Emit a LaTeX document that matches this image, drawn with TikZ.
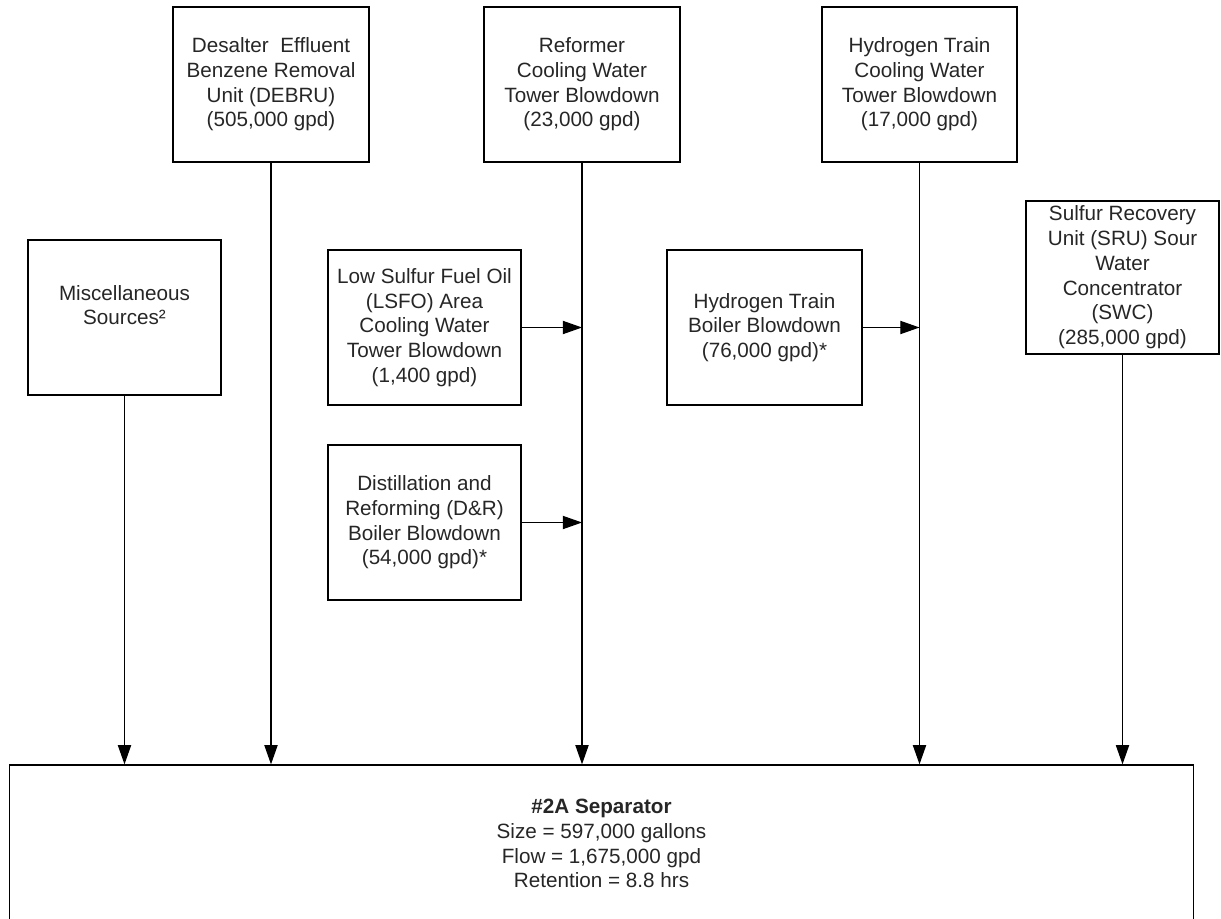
\documentclass[tikz,border=0pt]{standalone}
\usepackage{fontspec}
\setmainfont{Liberation Sans}
\usetikzlibrary{arrows.meta}
\begin{document}
\begin{tikzpicture}[x=0.025cm,y=-0.025cm,
  box/.style={draw=black,line width=0.9pt,inner sep=0pt,align=center,
    font=\fontsize{14.7}{17.6}\selectfont,text=black!85,
    minimum width=4.85cm,minimum height=3.875cm},
  arr/.style={draw=black,line width=0.85pt,-{Triangle[length=0.48cm,width=0.33cm]}}]
\useasboundingbox (0,0) rectangle (1221,919);
\node[box,minimum width=4.9cm] (debru) at (271,84.5) {Desalter~~Effluent\\Benzene Removal\\Unit (DEBRU)\\(505,000 gpd)};
\node[box,minimum width=4.9cm] (ref) at (582,84.5) {Reformer\\Cooling Water\\Tower Blowdown\\(23,000 gpd)};
\node[box,minimum width=4.875cm] (h2cw) at (919.5,84.5) {Hydrogen Train\\Cooling Water\\Tower Blowdown\\(17,000 gpd)};
\node[box,minimum width=4.825cm] (misc) at (124.5,317.5) {Miscellaneous\\Sources²\\\mbox{}};
\node[box,minimum width=4.825cm] (lsfo) at (424.5,327.5) {Low Sulfur Fuel Oil\\(LSFO) Area\\Cooling Water\\Tower Blowdown\\(1,400 gpd)};
\node[box,minimum width=4.825cm] (dr) at (424.5,522.5) {Distillation and\\Reforming (D\&R)\\Boiler Blowdown\\(54,000 gpd)*};
\node[box,minimum width=4.875cm] (h2b) at (764.5,327.5) {Hydrogen Train\\Boiler Blowdown\\(76,000 gpd)*};
\node[box,minimum width=4.825cm,minimum height=3.825cm] (sru) at (1122.5,277.5) {Sulfur Recovery\\Unit (SRU) Sour\\Water\\Concentrator\\(SWC)\\(285,000 gpd)};
\node[box,minimum width=29.575cm,minimum height=3.925cm] (sep) at (601.5,843.5) {\textbf{\#2A Separator}\\Size = 597,000 gallons\\Flow = 1,675,000 gpd\\Retention = 8.8 hrs};
\draw[arr] (misc.south) -- (misc.south |- sep.north);
\draw[arr] (debru.south) -- (debru.south |- sep.north);
\draw[arr] (ref.south) -- (ref.south |- sep.north);
\draw[arr] (h2cw.south) -- (h2cw.south |- sep.north);
\draw[arr] (sru.south) -- (sru.south |- sep.north);
\draw[arr] (lsfo.east) -- (lsfo.east -| ref.south);
\draw[arr] (dr.east) -- (dr.east -| ref.south);
\draw[arr] (h2b.east) -- (h2b.east -| h2cw.south);
\end{tikzpicture}
\end{document}
